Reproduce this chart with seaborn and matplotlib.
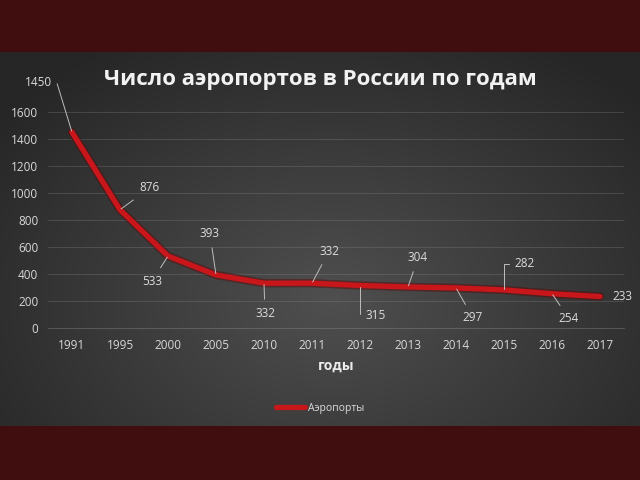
import numpy as np
import pandas as pd
import matplotlib
matplotlib.use("Agg")
import matplotlib.pyplot as plt
import seaborn as sns

# данные
years = ["1991", "1995", "2000", "2005", "2010", "2011", "2012",
         "2013", "2014", "2015", "2016", "2017"]
airports = [1450, 876, 533, 393, 332, 332, 315, 304, 297, 282, 254, 233]
# смещения подписей (в пикселях)
label_dx = [-34, 30, -16, -6, 1, 17, 16, 10, 17, 21, 17, 22]
label_dy = [50, 22, -25, 41, -30, 32, -30, 29, -30, 26, -25, 0]

df = pd.DataFrame({"год": years, "Аэропорты": airports})

sns.set_theme(style="dark")
plt.rcParams["font.family"] = ["Open Sans", "DejaVu Sans"]

fig = plt.figure(figsize=(6.4, 4.8), dpi=100)

# фон: радиальный градиент + бордовые полосы
bg = fig.add_axes([0, 0, 1, 1], zorder=0)
yy, xx = np.mgrid[0:480, 0:640]
r = np.sqrt(((xx - 330) / 420.0) ** 2 + ((yy - 300) / 300.0) ** 2)
shade = np.clip(0.31 - 0.16 * r, 0.15, 0.31)
img = np.dstack([shade, shade, shade])
img[:52] = np.array([0x40, 0x0e, 0x0e]) / 255
img[426:] = np.array([0x40, 0x0e, 0x0e]) / 255
bg.imshow(img, aspect="auto", extent=[0, 640, 480, 0])
bg.set_axis_off()

ax = fig.add_axes([48 / 640, 152 / 480, 576 / 640, 216 / 480], zorder=1)
ax.patch.set_alpha(0)

# тень линии
sns.lineplot(data=df, x="год", y="Аэропорты", ax=ax, color="#5a0a0a",
             linewidth=6, alpha=0.5, legend=False)
sns.lineplot(data=df, x="год", y="Аэропорты", ax=ax, color="#c8161b",
             linewidth=3.8, label="Аэропорты")

ax.set_ylim(0, 1600)
ax.set_xlim(-0.5, len(years) - 0.5)
ax.set_yticks(range(0, 1601, 200))
ax.grid(axis="y", color="#8a8a8a", linewidth=0.6, alpha=0.35)
ax.grid(axis="x", visible=False)
for s in ax.spines.values():
    s.set_visible(False)
ax.axhline(0, color="#8a8a8a", linewidth=0.8, alpha=0.4, clip_on=False)
ax.tick_params(axis="both", colors="#d8d8d8", labelsize=8.5, length=0)
ax.tick_params(axis="y", pad=7)
ax.tick_params(axis="x", pad=8)
ax.set_ylabel("")
ax.set_xlabel("годы", color="#ececec", fontsize=10, fontweight="bold",
              labelpad=5)

for i, (v, dx, dy) in enumerate(zip(airports, label_dx, label_dy)):
    if dx == 22 and dy == 0:
        arrow = None
    else:
        arrow = dict(arrowstyle="-", color="#bdbdbd", lw=0.7,
                     shrinkA=3, shrinkB=1)
        if i == 0:
            arrow.update(connectionstyle="angle,angleA=0,angleB=107,rad=0",
                         relpos=(1, 0.5), shrinkA=2)
        elif years[i] in ("2012", "2015"):
            arrow.update(connectionstyle="angle,angleA=0,angleB=90,rad=0",
                         relpos=(0, 0.5), shrinkA=2)
    ax.annotate(str(v), xy=(i, v), xytext=(dx, dy), textcoords="offset pixels",
                ha="center", va="center", color="#dcdcdc", fontsize=8.5,
                arrowprops=arrow)

fig.text(0.5, 1 - 80 / 480, "Число аэропортов в России по годам",
         color="#f2f2f2", fontsize=16, fontweight="bold",
         ha="center", va="center")

leg = ax.legend(loc="center", bbox_to_anchor=(0.5, 0.15),
                bbox_transform=fig.transFigure, frameon=False, fontsize=7.5,
                handlelength=2.8, handletextpad=0.2)
for t in leg.get_texts():
    t.set_color("#dcdcdc")

fig.savefig("out.png", dpi=100)
